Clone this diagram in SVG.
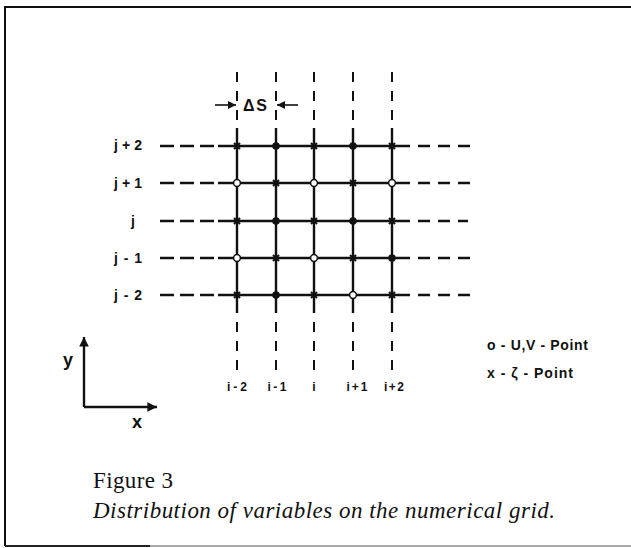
<svg xmlns="http://www.w3.org/2000/svg" xmlns:xlink="http://www.w3.org/1999/xlink" width="631" height="548" viewBox="0 0 631 548">
<style>
.frame{stroke:#111;stroke-width:2;fill:none}
.grid{stroke:#111;stroke-width:2.4;fill:none}
.dh1{stroke:#111;stroke-width:2.4;fill:none;stroke-dasharray:14 6}
.dh2{stroke:#111;stroke-width:2.4;fill:none;stroke-dasharray:12 8}
.dv{stroke:#111;stroke-width:2;fill:none;stroke-dasharray:10 9}
.axis{stroke:#111;stroke-width:2.4;fill:none}
.lbl{font-family:"Liberation Sans",Arial,sans-serif;font-weight:bold;fill:#111}
.jl{font-size:14px;text-anchor:middle}
.il{font-size:12px;text-anchor:middle}
.leg{font-size:14px}
.cap{font-family:"Liberation Serif","Times New Roman",serif;font-size:23px;fill:#111}
</style>
<defs>
<g id="dot"><circle r="3.8" fill="#111"/></g>
<g id="ring"><circle r="3.4" fill="#fff" stroke="#111" stroke-width="1.5"/></g>
<g id="cross"><path d="M-3,-3 L3,3 M-3,3 L3,-3" stroke="#111" stroke-width="2"/></g>
<marker id="ah" viewBox="0 0 10 10" refX="10" refY="5" markerWidth="5.5" markerHeight="4" orient="auto" markerUnits="strokeWidth"><path d="M0,0 L10,5 L0,10 z" fill="#111"/></marker>
<marker id="ahs" viewBox="0 0 10 10" refX="10" refY="5" markerWidth="6" markerHeight="5" orient="auto" markerUnits="strokeWidth"><path d="M0,0 L10,5 L0,10 z" fill="#111"/></marker>
</defs>

<g id="frame">
<path class="frame" d="M631,7 L5,7 L5,546"/>
<path d="M5,546 L150,546" stroke="#222" stroke-width="2"/>
<path d="M150,546 L631,546" stroke="#aaa" stroke-width="2"/>
</g>

<g id="connectors">
<path class="grid" d="M237,128 V313 M276,128 V313 M314,128 V313 M353,128 V313 M392,128 V313"/>
<path class="dv" d="M237,72 V128 M276,72 V128 M314,72 V128 M353,72 V128 M392,72 V128"/>
<path class="dv" d="M237,322 V371 M276,322 V371 M314,322 V371 M353,322 V371 M392,322 V371"/>
<path class="grid" d="M218,146 H410 M218,183 H410 M218,221 H410 M218,258 H410 M218,295 H410"/>
<path class="dh1" d="M160,146 H218 M160,183 H218 M160,221 H218 M160,258 H218 M160,295 H218"/>
<path class="dh2" d="M418,146 H474 M418,183 H471 M418,221 H468 M418,258 H471 M418,295 H471"/>
<path d="M215,105 H236" stroke="#111" stroke-width="1.6" marker-end="url(#ahs)"/>
<path d="M298,105 H277" stroke="#111" stroke-width="1.6" marker-end="url(#ahs)"/>
<path class="axis" d="M84,407 V337" marker-end="url(#ah)"/>
<path class="axis" d="M84,407 H157" marker-end="url(#ah)"/>
</g>

<g id="points">
<g id="row-j2">
<use xlink:href="#cross" x="237" y="146"/><use xlink:href="#dot" x="276" y="146"/><use xlink:href="#cross" x="314" y="146"/><use xlink:href="#dot" x="353" y="146"/><use xlink:href="#cross" x="392" y="146"/>
</g>
<g id="row-j1">
<use xlink:href="#ring" x="237" y="183"/><use xlink:href="#cross" x="276" y="183"/><use xlink:href="#ring" x="314" y="183"/><use xlink:href="#cross" x="353" y="183"/><use xlink:href="#ring" x="392" y="183"/>
</g>
<g id="row-j">
<use xlink:href="#cross" x="237" y="221"/><use xlink:href="#dot" x="276" y="221"/><use xlink:href="#cross" x="314" y="221"/><use xlink:href="#dot" x="353" y="221"/><use xlink:href="#cross" x="392" y="221"/>
</g>
<g id="row-jm1">
<use xlink:href="#ring" x="237" y="258"/><use xlink:href="#cross" x="276" y="258"/><use xlink:href="#ring" x="314" y="258"/><use xlink:href="#cross" x="353" y="258"/><use xlink:href="#dot" x="392" y="258"/>
</g>
<g id="row-jm2">
<use xlink:href="#cross" x="237" y="295"/><use xlink:href="#dot" x="276" y="295"/><use xlink:href="#cross" x="314" y="295"/><use xlink:href="#ring" x="353" y="295"/><use xlink:href="#cross" x="392" y="295"/>
</g>
</g>

<g id="j-labels" class="lbl jl">
<text x="128" y="150" textLength="28" lengthAdjust="spacing">j+2</text>
<text x="128" y="188" textLength="28" lengthAdjust="spacing">j+1</text>
<text x="133" y="226">j</text>
<text x="128" y="263" textLength="28" lengthAdjust="spacing">j-1</text>
<text x="128" y="300" textLength="28" lengthAdjust="spacing">j-2</text>
</g>

<g id="i-labels" class="lbl il">
<text x="237" y="391" textLength="20" lengthAdjust="spacing">i-2</text>
<text x="277" y="391" textLength="19" lengthAdjust="spacing">i-1</text>
<text x="314" y="391">i</text>
<text x="357" y="391" textLength="21" lengthAdjust="spacing">i+1</text>
<text x="394" y="391" textLength="20" lengthAdjust="spacing">i+2</text>
</g>

<g id="delta-s"><text class="lbl" x="243" y="111" font-size="16" textLength="24" lengthAdjust="spacing">ΔS</text></g>

<g id="legend" class="lbl leg">
<text x="487" y="350" textLength="101" lengthAdjust="spacing">o - U,V - Point</text>
<text x="487" y="378" textLength="86" lengthAdjust="spacing">x - ζ - Point</text>
</g>

<g id="axis-labels" class="lbl" font-weight="normal">
<text x="68" y="366" font-size="18" text-anchor="middle">y</text>
<text x="137" y="428" font-size="18" text-anchor="middle">x</text>
</g>

<g id="caption">
<text class="cap" x="93" y="488" textLength="80" lengthAdjust="spacing">Figure 3</text>
<text class="cap" x="93" y="518" font-style="italic" textLength="462" lengthAdjust="spacing">Distribution of variables on the numerical grid.</text>
</g>
</svg>
